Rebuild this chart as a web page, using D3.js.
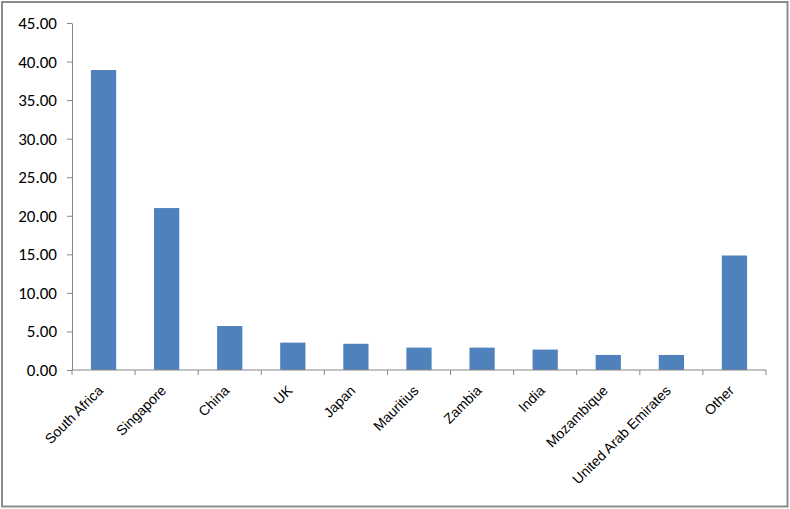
<!DOCTYPE html>
<html>
<head>
<meta charset="utf-8">
<script src="https://cdn.jsdelivr.net/npm/d3@7"></script>
<style>
  html, body { margin: 0; padding: 0; background: #fff; }
  svg { display: block; }
</style>
</head>
<body>
<script>
const categories = ["South Africa", "Singapore", "China", "UK", "Japan", "Mauritius", "Zambia", "India", "Mozambique", "United Arab Emirates", "Other"];
const values = [38.9, 21.0, 5.7, 3.55, 3.4, 2.9, 2.9, 2.65, 1.95, 1.95, 14.85];
const yTicks = [0, 5, 10, 15, 20, 25, 30, 35, 40, 45];

const W = 790, H = 509;
const svg = d3.select("body").append("svg").attr("width", W).attr("height", H);

// outer frame
svg.append("rect").attr("x", 2).attr("y", 2).attr("width", W - 4.5).attr("height", H - 4.5)
  .attr("fill", "#fff").attr("stroke", "#8c8c8c").attr("stroke-width", 2);

const mLeft = 72, mRight = 766, mTop = 23, mBottom = 370;
const x = d3.scaleBand().domain(categories).range([mLeft, mRight]).paddingInner(0.6).paddingOuter(0.3);
const y = d3.scaleLinear().domain([0, 45]).range([mBottom, mTop]);

// bars
svg.append("g").selectAll("rect").data(values).join("rect")
  .attr("x", (d, i) => x(categories[i]))
  .attr("y", d => y(d))
  .attr("width", x.bandwidth())
  .attr("height", d => y(0) - y(d))
  .attr("fill", "#4F81BD");

// y axis
const yAxis = d3.axisLeft(y).tickValues(yTicks).tickFormat(d3.format(".2f")).tickSizeInner(5).tickSizeOuter(0).tickPadding(10);
const gy = svg.append("g").attr("transform", `translate(${mLeft},0)`).call(yAxis);
gy.select(".domain").attr("stroke", "#868686");
gy.selectAll(".tick line").attr("stroke", "#868686");
gy.selectAll(".tick text").attr("fill", "#000").style("font-family", "Carlito, Lato, 'Open Sans', sans-serif").style("font-size", "17px");

// x axis line and ticks at band boundaries
const gx = svg.append("g");
gx.append("line").attr("x1", mLeft).attr("x2", mRight).attr("y1", mBottom).attr("y2", mBottom).attr("stroke", "#868686");
const boundaries = d3.range(categories.length + 1).map(i => mLeft + i * (mRight - mLeft) / categories.length);
gx.selectAll("line.tk").data(boundaries).join("line").attr("class", "tk")
  .attr("x1", d => d).attr("x2", d => d).attr("y1", mBottom).attr("y2", mBottom + 5).attr("stroke", "#868686");

gx.selectAll("text").data(categories).join("text")
  .attr("transform", d => `translate(${x(d) + x.bandwidth() / 2 - 3},${mBottom + 18}) rotate(-45)`)
  .attr("text-anchor", "end")
  .attr("dy", "0.35em")
  .style("font-family", "'Liberation Sans', Arial, sans-serif")
  .style("font-size", "14px")
  .attr("fill", "#000")
  .text(d => d);
</script>
</body>
</html>
